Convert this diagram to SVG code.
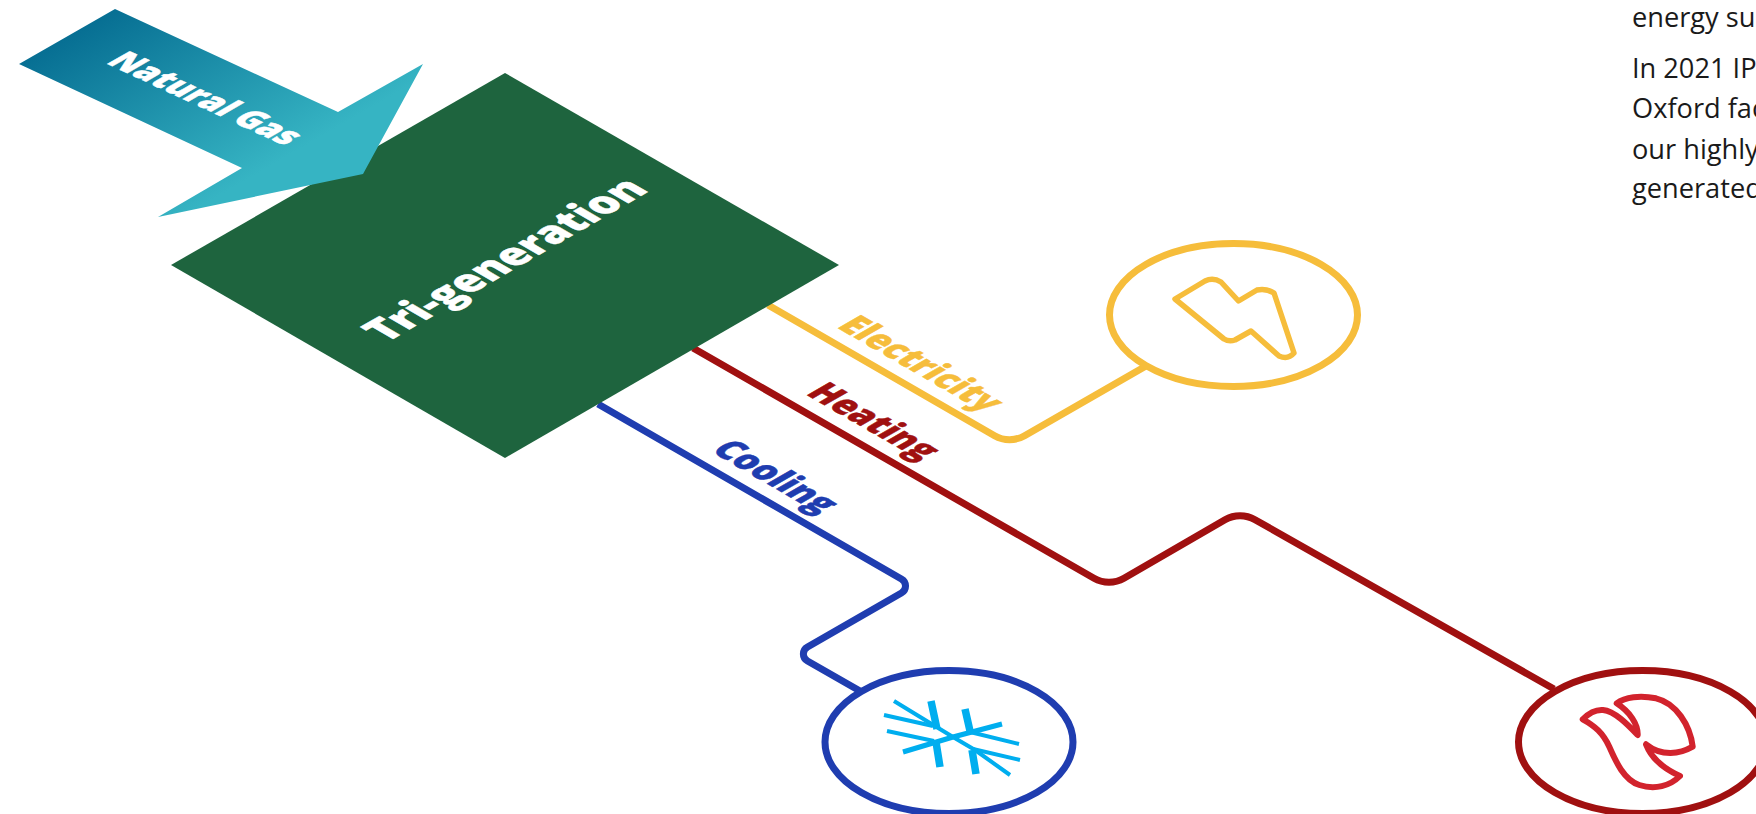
<svg xmlns="http://www.w3.org/2000/svg" width="1756" height="814" viewBox="0 0 1756 814">
<style>
.l{fill:none;stroke-width:7}
.t{font-family:"Open Sans","Liberation Sans",sans-serif;font-weight:800;stroke-width:.5}
.p{font-family:"Open Sans","Liberation Sans",sans-serif;font-size:27.200px;fill:#1a1a1a}
.e{fill:#fff;stroke-width:7}
</style>
<defs><linearGradient id="g" gradientUnits="userSpaceOnUse" x1="115" y1="9" x2="222" y2="194"><stop offset="0" stop-color="#076f93"/><stop offset="1" stop-color="#36b4c3"/></linearGradient></defs>
<rect width="1756" height="814" fill="#fff"/>
<g id="connectors">
<path class="l" stroke="#f6bd3b" d="M768 305L994.600 435.700A30 30 0 0 0 1024.600 435.700L1146 366"/>
<path class="l" stroke="#a01010" d="M693 348L1094 578.300A30 30 0 0 0 1124 578.300L1225 519.700A30 30 0 0 1 1255 519.700L1554 689"/>
<path class="l" stroke="#1f3db0" d="M598 404L901.400 579A8 8 0 0 1 901.400 593L807.500 647A8 8 0 0 0 807.500 661L860 691"/>
</g>
<g id="tri-generation"><polygon points="505,73 839,265 505,458 171,265" fill="#1e643e"/>
<text class="t" font-size="41.200" fill="#fff" stroke="#fff" transform="matrix(.866 -.5 .91 .525 386 343)">Tri-generation</text></g>
<g id="natural-gas"><polygon points="115,9 19,64 242,168 158,217 363,174 423,64 338,112" fill="url(#g)"/>
<text class="t" font-size="32.300" fill="#fff" stroke="#fff" transform="matrix(.908 .419 -.97 .56 105 63)">Natural Gas</text></g>
<g id="electricity"><text class="t" font-size="33" fill="#f6bd3b" stroke="#f6bd3b" transform="matrix(.866 .5 -.97 .56 836 327)">Electricity</text>
<ellipse class="e" cx="1233.500" cy="315" rx="124" ry="71.500" stroke="#f6bd3b"/>
<path fill="none" stroke="#f6bd3b" stroke-width="5.500" stroke-linejoin="round" d="M1175 299L1205 281Q1213 277 1221 282L1238.500 301L1257 290Q1266 288 1274 293L1294 353Q1288 360 1279 356L1251 331L1235 340Q1229 342 1224 339Z"/></g>
<g id="heating"><text class="t" font-size="33" fill="#a01010" stroke="#a01010" transform="matrix(.866 .5 -.97 .56 805 394)">Heating</text>
<ellipse class="e" cx="1642.500" cy="742" rx="124" ry="71.500" stroke="#a01010"/>
<path fill="none" stroke="#d2232d" stroke-width="6" stroke-linejoin="round" d="M1582.700 719.300C1590 712 1597 709.500 1603 710C1615 711 1629 726 1637.700 735C1638 724 1630 712 1616.700 703.300C1625 697 1640 695 1656 698.300C1676 703 1690 725 1692.700 746.700C1680 754 1662 757 1646 744.300C1651 757 1662 768 1680 776C1670 786 1655 790 1639.300 785C1624 780 1616 762 1609.300 746.700C1603 733 1595 726 1582.700 719.300Z"/></g>
<g id="cooling"><text class="t" font-size="33" fill="#1f3db0" stroke="#1f3db0" transform="matrix(.866 .5 -.97 .56 710 451)">Cooling</text>
<ellipse class="e" cx="949" cy="742" rx="124" ry="71.500" stroke="#1f3db0"/>
<g stroke="#00aeef" fill="none"><path stroke-width="4" d="M894 701L930 723L953 737L975 750L1010 775"/>
<path stroke-width="4" d="M884 715L933 726M973 749L1020 760M887 731L934 741M970 732L1019 744"/>
<path stroke-width="5" d="M903 752L953 737L1002 724"/>
<path stroke-width="7.500" d="M931 701L937 729M936 742L940 767M965 709L970 731M972 750L976 774"/></g></g>
<g id="body-text" class="p"><text x="1632" y="27">energy su</text><text x="1632" y="78">In 2021 IP</text><text x="1632" y="118">Oxford fac</text><text x="1632" y="159">our highly</text><text x="1632" y="198">generated</text></g>
</svg>
